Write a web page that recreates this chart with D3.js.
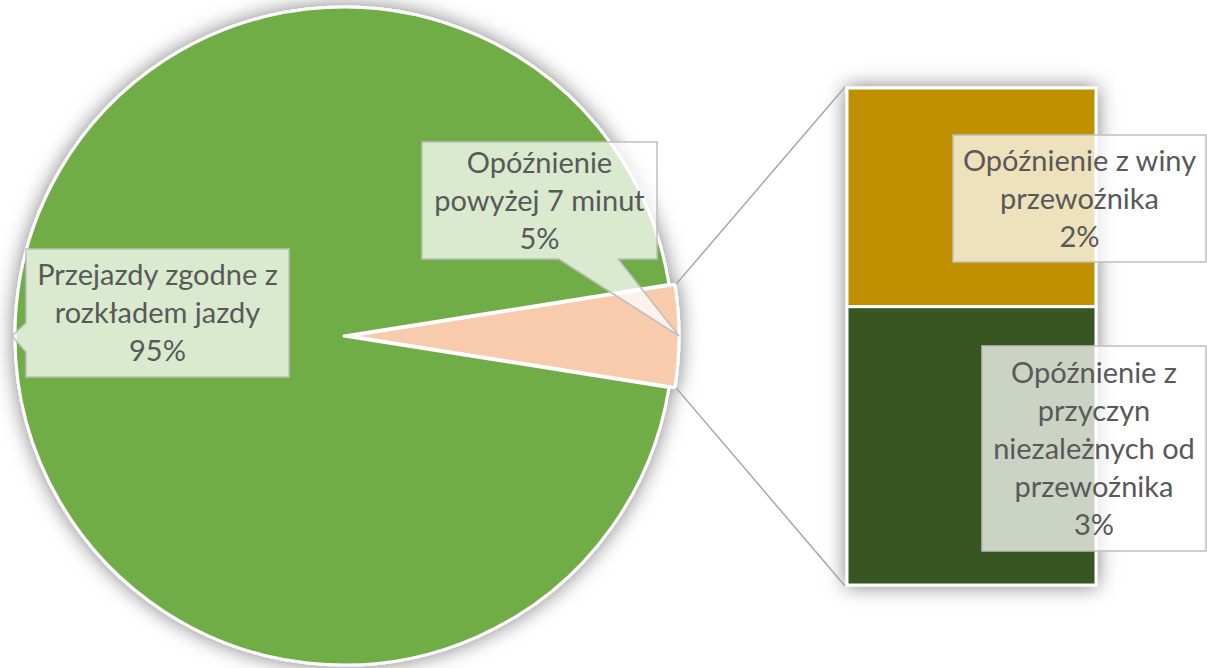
<!DOCTYPE html>
<html>
<head>
<meta charset="utf-8">
<script src="https://cdn.jsdelivr.net/npm/d3@7"></script>
<style>
  html, body { margin: 0; padding: 0; background: #ffffff; }
  svg { display: block; }
  .lbl { font-family: Lato, "Noto Sans", sans-serif; fill: #595959; }
</style>
</head>
<body>
<svg id="chart" width="1207" height="668"></svg>
<script>
// Pie: on-time runs vs. delays over 7 minutes (percent)
const pieCategories = ["Opóźnienie powyżej 7 minut", "Przejazdy zgodne z rozkładem jazdy"];
const pieValues = [5, 95];
const pieColors = ["#F8CBAD", "#70AD47"];

// Breakdown of the delayed share (percent of all runs)
const barCategories = ["Opóźnienie z winy przewoźnika", "Opóźnienie z przyczyn niezależnych od przewoźnika"];
const barValues = [2.2, 2.8];
const barColors = ["#BF9000", "#375623"];

// Label text lines (last line is the formatted value)
const pieLabelLines = [["Opóźnienie", "powyżej 7 minut"], ["Przejazdy zgodne z", "rozkładem jazdy"]];
const barLabelLines = [["Opóźnienie z winy", "przewoźnika"], ["Opóźnienie z", "przyczyn", "niezależnych od", "przewoźnika"]];

const svg = d3.select("#chart");
const defs = svg.append("defs");
const shadow = defs.append("filter").attr("id", "soft").attr("x", "-20%").attr("y", "-20%").attr("width", "140%").attr("height", "140%");
shadow.append("feDropShadow").attr("dx", 0).attr("dy", 0).attr("stdDeviation", 10)
  .attr("flood-color", "#000").attr("flood-opacity", 0.5);

const cx = 344, cy = 336, R = 329, explode = 6;
const fmt = v => d3.format(".0f")(v) + "%";

// Pie, with the delay slice centred at 3 o'clock
const half = Math.PI * pieValues[0] / d3.sum(pieValues);
const pie = d3.pie().sort(null).value(d => d)
  .startAngle(Math.PI / 2 - half).endAngle(Math.PI / 2 - half + 2 * Math.PI);
const arcs = pie(pieValues);
const arc = d3.arc().innerRadius(0).outerRadius(R);

const pieG = svg.append("g").attr("transform", `translate(${cx},${cy})`);
const offset = (d, i) => {
  if (i !== 0) return [0, 0];
  const a = (d.startAngle + d.endAngle) / 2;
  return [Math.sin(a) * explode, -Math.cos(a) * explode];
};
pieG.append("g").attr("filter", "url(#soft)")
  .selectAll("path").data(arcs).join("path")
  .attr("d", arc)
  .attr("transform", (d, i) => `translate(${offset(d, i)})`)
  .attr("fill", (d, i) => pieColors[i])
  .attr("stroke", "#ffffff").attr("stroke-width", 3).attr("stroke-linejoin", "round");

// Stacked bar for the delay breakdown
const barX0 = 847, barX1 = 1096;
const y = d3.scaleLinear().domain([0, d3.sum(barValues)]).range([585, 88]);
const stackData = [];
let acc = d3.sum(barValues);
barValues.forEach((v, i) => { stackData.push({ i, top: acc, bottom: acc - v, v }); acc -= v; });

const barG = svg.append("g").attr("filter", "url(#soft)");
barG.selectAll("rect").data(stackData).join("rect")
  .attr("x", barX0).attr("width", barX1 - barX0)
  .attr("y", d => y(d.top)).attr("height", d => y(d.bottom) - y(d.top))
  .attr("fill", d => barColors[d.i])
  .attr("stroke", "#ffffff").attr("stroke-width", 3);

// Connector lines from the delay slice to the bar
const delay = arcs[0];
const [ox, oy] = offset(delay, 0);
const edge = a => [cx + ox + Math.sin(a) * (R + 1), cy + oy - Math.cos(a) * (R + 1)];
const pTop = edge(delay.startAngle), pBot = edge(delay.endAngle);
svg.append("line").attr("x1", pTop[0]).attr("y1", pTop[1]).attr("x2", barX0 - 2).attr("y2", y(d3.sum(barValues)) - 1)
  .attr("stroke", "#a6a6a6").attr("stroke-width", 1.5);
svg.append("line").attr("x1", pBot[0]).attr("y1", pBot[1]).attr("x2", barX0 - 2).attr("y2", y(0) + 1)
  .attr("stroke", "#a6a6a6").attr("stroke-width", 1.5);

// Callout labels
const fontSize = 29, lineH = 38;
function callout(box, tip, baseA, baseB, side, lines) {
  const [x0, y0, x1, y1] = box;
  let pts;
  if (!tip) pts = [[x0, y0], [x1, y0], [x1, y1], [x0, y1]];
  else if (side === "left") pts = [[x0, y0], [x1, y0], [x1, y1], [x0, y1], [x0, baseB], tip, [x0, baseA]];
  else pts = [[x0, y0], [x1, y0], [x1, y1], [baseB, y1], tip, [baseA, y1], [x0, y1]];
  const g = svg.append("g");
  g.append("path").attr("d", d3.line()(pts) + "Z")
    .attr("fill", "rgba(255,255,255,0.74)").attr("stroke", "#bfbfbf").attr("stroke-width", 1.5);
  const mx = (x0 + x1) / 2, my = (y0 + y1) / 2;
  const startY = my - (lines.length - 1) * lineH / 2;
  g.append("text").attr("class", "lbl").attr("text-anchor", "middle")
    .attr("font-size", fontSize)
    .selectAll("tspan").data(lines).join("tspan")
    .attr("x", mx).attr("y", (d, i) => startY + i * lineH).attr("dy", "0.35em")
    .text(d => d);
}

const tipOf = d => {
  const a = (d.startAngle + d.endAngle) / 2;
  const [dx, dy] = offset(d, arcs.indexOf(d));
  return [cx + dx + Math.sin(a) * R, cy + dy - Math.cos(a) * R];
};

// green slice label (pointer to its outer edge at 9 o'clock)
const tG = tipOf(arcs[1]);
callout([26, 249, 289, 377], [tG[0] - 3, tG[1]], 323, 352, "left",
  [...pieLabelLines[1], fmt(pieValues[1])]);
// delay slice label (pointer down to the slice edge)
const tO = tipOf(arcs[0]);
callout([422, 142, 657, 259], tO, 559, 618, "bottom",
  [...pieLabelLines[0], fmt(pieValues[0])]);

// bar segment labels
callout([953, 135, 1206, 262], null, 0, 0, null, [...barLabelLines[0], fmt(barValues[0])]);
callout([982, 346, 1206, 551], null, 0, 0, null, [...barLabelLines[1], fmt(barValues[1])]);
</script>
</body>
</html>
